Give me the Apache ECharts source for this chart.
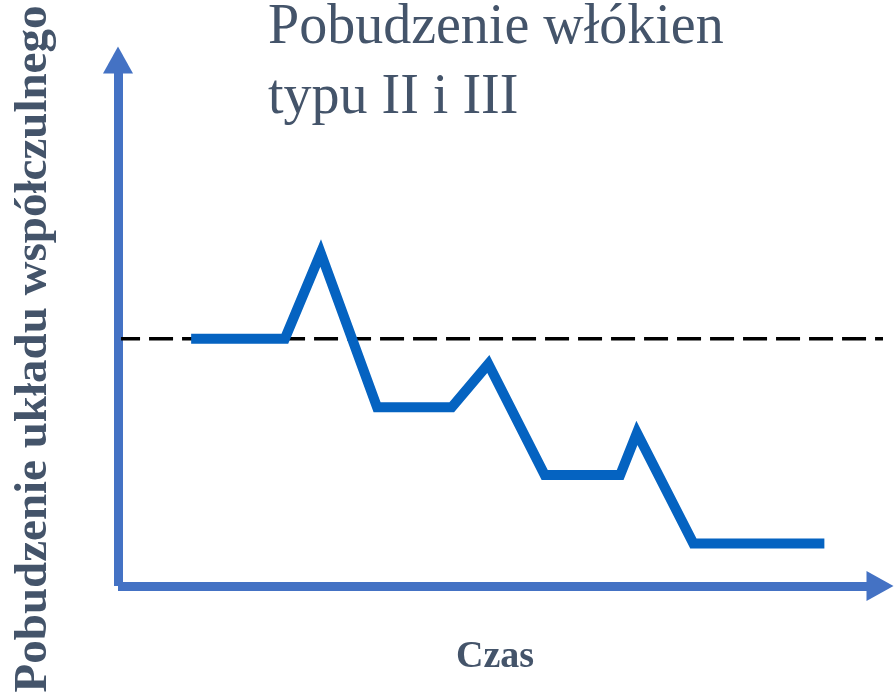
<!DOCTYPE html>
<html>
<head>
<meta charset="utf-8">
<title>Pobudzenie włókien typu II i III</title>
<script src="https://cdn.jsdelivr.net/npm/echarts@6/dist/echarts.min.js"></script>
<style>
  html, body { margin: 0; padding: 0; background: #fff; }
  #chart { width: 894px; height: 694px; }
</style>
</head>
<body>
<div id="chart"></div>
<script>
// dane (oś czasu 0-100, pobudzenie 0-100)
const timePoints = [9.6, 21.9, 26.6, 34.0, 43.8, 48.6, 56.0, 65.9, 68.1, 75.5, 92.7];
const excitation = [47, 47, 63.3, 34, 34, 42.2, 21.1, 21.1, 29.1, 8.1, 8.1];
const baselineX = [0.4, 101.8];
const baselineLevel = 47;

const titleLines = ["Pobudzenie włókien", "typu II i III"];
const yAxisText = "Pobudzenie układu współczulnego";
const xAxisText = "Czas";

const textColor = "#44546A";
const axisColor = "#4472C4";
const lineColor = "#0563C1";
const serif = '"Liberation Serif", "Times New Roman", serif';

const chart = echarts.init(document.getElementById("chart"));

let mainData = [];
for (let i = 0; i < timePoints.length; i++) {
  mainData.push([timePoints[i], excitation[i]]);
}
let baseData = baselineX.map(function (x) {
  return [x, baselineLevel];
});

const axisLine = {
  show: true,
  symbol: ["none", "triangle"],
  symbolSize: [30, 27],
  lineStyle: { color: axisColor, width: 9, cap: "butt" },
};

// tytuł - dwie linie
let titleGraphics = titleLines.map(function (line, i) {
  return {
    type: "text",
    x: 268,
    y: 28 + i * 70,
    style: {
      text: line,
      font: "56px " + serif,
      fill: textColor,
      align: "left",
      verticalAlign: "middle",
    },
  };
});

const option = {
  animation: false,
  grid: { left: 118, right: 14, top: 60, bottom: 108 },
  xAxis: {
    type: "value",
    min: 0,
    max: 100,
    axisLine: axisLine,
    axisTick: { show: false },
    axisLabel: { show: false },
    splitLine: { show: false },
  },
  yAxis: {
    type: "value",
    min: 0,
    max: 100,
    axisLine: axisLine,
    axisTick: { show: false },
    axisLabel: { show: false },
    splitLine: { show: false },
  },
  graphic: titleGraphics.concat([
    {
      type: "text",
      x: 495,
      y: 657,
      style: {
        text: xAxisText,
        font: "bold 38px " + serif,
        fill: textColor,
        align: "center",
        verticalAlign: "middle",
      },
    },
    {
      type: "text",
      x: 34,
      y: 349,
      rotation: Math.PI / 2,
      style: {
        text: yAxisText,
        font: "bold 47px " + serif,
        fill: textColor,
        align: "center",
        verticalAlign: "middle",
      },
    },
  ]),
  series: [
    {
      name: "poziom wyjściowy",
      type: "line",
      data: baseData,
      clip: false,
      symbol: "none",
      z: 1,
      lineStyle: { color: "#000", width: 3.5, type: [24, 9], dashOffset: 5 },
    },
    {
      name: "pobudzenie",
      type: "line",
      data: mainData,
      symbol: "none",
      z: 3,
      lineStyle: { color: lineColor, width: 10, cap: "butt", join: "miter" },
    },
  ],
};
chart.setOption(option);
</script>
</body>
</html>
